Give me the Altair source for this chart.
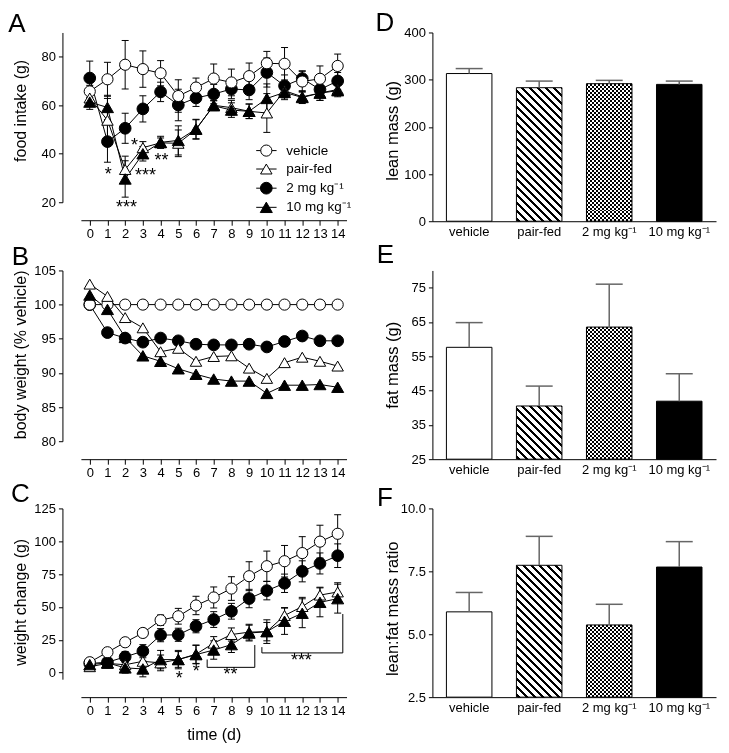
import altair as alt
import pandas as pd

# ---------------- data ----------------
DAYS = list(range(15))
GROUPS = ["vehicle", "pair-fed", "2 mg kg⁻¹", "10 mg kg⁻¹"]
DRAW_ORDER = ["2 mg kg⁻¹", "vehicle", "pair-fed", "10 mg kg⁻¹"]
SHAPES = ["circle", "triangle-up", "circle", "triangle-up"]
FILLS = ["white", "white", "black", "black"]
SIZES = [125, 145, 125, 145]

# A: food intake (g), mean and SEM
fi_vehicle = [65.7, 70.7, 76.7, 74.9, 73.2, 63.8, 67.3, 71.0, 69.4, 72.0, 77.3, 77.1, 69.8, 70.9, 76.2]
fi_vehicle_sem = [2.5, 7.0, 10.0, 7.5, 5.2, 6.7, 3.9, 6.0, 5.5, 5.4, 4.9, 6.7, 4.4, 5.3, 4.9]
fi_pairfed = [63.0, 53.8, 33.5, 42.5, 44.5, 44.3, 50.0, 60.0, 59.0, 57.5, 56.8, 66.0, 63.5, 65.0, 66.5]
fi_pairfed_sem = [2.5, 9.0, 5.5, 2.5, 2.0, 5.5, 4.0, 2.0, 3.0, 3.0, 8.0, 3.0, 2.5, 3.0, 2.5]
fi_2mg = [71.2, 45.0, 50.5, 58.5, 65.5, 60.1, 63.0, 64.6, 66.7, 66.3, 73.5, 68.0, 71.0, 66.5, 70.0]
fi_2mg_sem = [7.0, 8.5, 6.2, 5.4, 4.0, 6.5, 3.5, 4.0, 4.0, 4.0, 6.0, 4.5, 3.0, 3.0, 3.5]
fi_10mg = [61.3, 59.1, 29.6, 40.0, 44.7, 45.5, 50.2, 59.8, 58.0, 57.5, 62.8, 65.3, 63.2, 65.0, 66.0]
fi_10mg_sem = [3.0, 5.0, 7.5, 3.0, 2.5, 6.0, 4.0, 2.0, 3.0, 3.0, 6.0, 3.0, 2.5, 3.0, 2.5]
fi_star_day = [1.05, 2.08, 2.53, 3.15, 4.05]
fi_star_val = [32.2, 18.6, 43.9, 31.8, 37.9]
fi_star_txt = ["*", "***", "*", "***", "**"]
leg_y = [41.3, 33.7, 25.8, 17.9]
leg_line_x1 = [9.40] * 4
leg_line_x2 = [10.55] * 4
leg_mark_x = [9.97] * 4
leg_text_x = [11.1] * 4

# B: body weight (% vehicle)
bw_vehicle = [100.0] * 15
bw_pairfed = [103.0, 101.2, 98.1, 96.6, 93.1, 93.6, 91.7, 92.4, 92.5, 90.7, 89.2, 91.5, 92.3, 91.7, 91.0]
bw_2mg = [100.0, 95.9, 95.1, 94.5, 95.1, 94.7, 94.2, 94.1, 94.1, 94.2, 93.8, 94.6, 95.4, 94.7, 94.7]
bw_10mg = [101.4, 99.3, 95.2, 92.5, 91.7, 90.6, 89.8, 89.1, 88.8, 88.8, 87.0, 88.2, 88.2, 88.3, 87.9]

# C: weight change (g), mean and SEM
wc_vehicle = [7.9, 15.5, 23.1, 30.2, 39.9, 42.9, 51.1, 57.2, 64.0, 73.4, 81.0, 84.8, 91.0, 99.7, 105.7]
wc_vehicle_sem = [2.0, 2.0, 2.0, 3.0, 4.0, 6.0, 7.0, 8.0, 9.0, 11.0, 11.5, 12.0, 12.5, 12.5, 14.5]
wc_pairfed = [4.5, 7.0, 6.0, 8.6, 7.4, 10.0, 14.0, 22.4, 29.0, 30.8, 31.2, 43.5, 50.3, 59.0, 61.4]
wc_pairfed_sem = [2.0, 3.0, 4.0, 5.0, 6.0, 6.0, 7.0, 5.0, 5.0, 6.0, 7.0, 6.0, 7.0, 6.0, 7.0]
wc_2mg = [7.0, 7.9, 12.0, 16.3, 28.5, 28.8, 35.3, 40.4, 46.7, 56.4, 62.4, 68.0, 77.1, 83.1, 89.0]
wc_2mg_sem = [2.0, 3.0, 4.0, 5.0, 5.0, 5.0, 5.0, 6.0, 6.0, 7.0, 7.0, 7.0, 8.0, 8.0, 9.0]
wc_10mg = [6.1, 7.4, 3.6, 2.8, 9.9, 9.9, 13.7, 17.2, 21.3, 30.1, 31.2, 39.1, 45.2, 53.5, 56.3]
wc_10mg_sem = [2.0, 3.0, 4.0, 6.0, 7.0, 7.0, 7.0, 7.0, 6.0, 6.0, 9.0, 10.0, 11.0, 11.0, 11.0]
wc_star_day = [5.05, 6.02, 7.95, 11.95]
wc_star_val = [-3.3, 2.3, -0.5, 10.4]
wc_star_txt = ["*", "*", "**", "***"]
br_x1 = [6.63, 9.72]
br_x2 = [9.32, 14.29]
br_base = [4.0, 15.0]
br_left = [10.0, 19.4]
br_right = [21.0, 44.6]

# D-F: body composition, mean and SEM
lean_mean = [313.0, 283.0, 291.5, 290.0]
lean_sem = [10.5, 14.0, 7.0, 7.0]
fat_mean = [57.6, 40.5, 63.5, 41.9]
fat_sem = [7.2, 5.8, 12.5, 8.0]
ratio_mean = [5.89, 7.74, 5.37, 7.67]
ratio_sem = [0.77, 1.15, 0.82, 1.01]

# ---------------- layout constants ----------------
LW, RW = 266, 284
RH = 189
PAD_IN, PAD_OUT = 0.35, 0.2
BAND_W = RW / (4 - PAD_IN + 2 * PAD_OUT) * (1 - PAD_IN)


def shape_enc():
    return dict(
        shape=alt.Shape("group:N", scale=alt.Scale(domain=GROUPS, range=SHAPES), legend=None),
        fill=alt.Fill("group:N", scale=alt.Scale(domain=GROUPS, range=FILLS), legend=None),
        size=alt.Size("group:N", scale=alt.Scale(domain=GROUPS, range=SIZES), legend=None),
    )


def letter_layer(letter, lx, ly):
    return alt.Chart(pd.DataFrame({"t": [letter]})).mark_text(
        fontSize=26, align="center", baseline="alphabetic", color="black"
    ).encode(x=alt.value(lx), y=alt.value(ly), text="t:N")


def left_panel(means, sems, ydom, yvals, ytitle, ty, xtitle=None):
    rows = []
    for g in DRAW_ORDER:
        for i, d in enumerate(DAYS):
            m = means[g][i]
            s = sems[g][i] if sems else 0.0
            rows.append({"day": d, "group": g, "value": m, "lo": m - s, "hi": m + s})
    df = pd.DataFrame(rows)
    yax = alt.Axis(values=yvals, offset=18.5, tickSize=4, labelPadding=3, labelFontSize=13,
                   titleFontSize=16, titleX=-42.2, titleY=ty, titleBaseline="middle", titleAngle=270)
    xax = alt.Axis(values=DAYS, offset=18, tickSize=5, labelPadding=2, labelFontSize=13,
                   labelFlush=False, labelOverlap=False, titleFontSize=16, titlePadding=9)

    def X(f):
        return alt.X(f, scale=alt.Scale(domain=[-0.5, 14.5], nice=False, zero=False),
                     axis=xax, title=xtitle)

    def Y(f):
        return alt.Y(f, scale=alt.Scale(domain=ydom, nice=False, zero=False),
                     axis=yax, title=ytitle)

    base = alt.Chart(df)
    layers = [
        base.mark_line(color="black", strokeWidth=1).encode(
            x=X("day:Q"), y=Y("value:Q"), detail="group:N", order="day:Q"),
    ]
    if sems:
        layers += [
            base.mark_rule(color="black", strokeWidth=1).encode(x=X("day:Q"), y=Y("lo:Q"), y2="hi:Q"),
            base.mark_rule(color="black", strokeWidth=1, xOffset=-3.5, x2Offset=3.5).encode(
                x=X("day:Q"), x2="day:Q", y=Y("lo:Q")),
            base.mark_rule(color="black", strokeWidth=1, xOffset=-3.5, x2Offset=3.5).encode(
                x=X("day:Q"), x2="day:Q", y=Y("hi:Q")),
        ]
    layers.append(
        base.mark_point(filled=True, opacity=1, stroke="black", strokeWidth=1).encode(
            x=X("day:Q"), y=Y("value:Q"), **shape_enc())
    )
    return layers, X, Y


# ---------- Panel A ----------
A_layers, AX, AY = left_panel(
    {"vehicle": fi_vehicle, "pair-fed": fi_pairfed, "2 mg kg⁻¹": fi_2mg, "10 mg kg⁻¹": fi_10mg},
    {"vehicle": fi_vehicle_sem, "pair-fed": fi_pairfed_sem, "2 mg kg⁻¹": fi_2mg_sem, "10 mg kg⁻¹": fi_10mg_sem},
    [20, 90], [20, 40, 60, 80], "food intake (g)", 78)
starsA = pd.DataFrame({"day": fi_star_day, "value": fi_star_val, "txt": fi_star_txt})
legA = pd.DataFrame({"group": GROUPS, "y": leg_y, "x1": leg_line_x1, "x2": leg_line_x2,
                     "xm": leg_mark_x, "xt": leg_text_x})
A_layers += [
    alt.Chart(starsA).mark_text(fontSize=18, dy=2, color="black").encode(
        x=AX("day:Q"), y=AY("value:Q"), text="txt:N"),
    alt.Chart(legA).mark_rule(color="black", strokeWidth=1).encode(x=AX("x1:Q"), x2="x2:Q", y=AY("y:Q")),
    alt.Chart(legA).mark_point(filled=True, opacity=1, stroke="black", strokeWidth=1).encode(
        x=AX("xm:Q"), y=AY("y:Q"), **shape_enc()),
    alt.Chart(legA).mark_text(align="left", baseline="middle", fontSize=13.5, color="black").encode(
        x=AX("xt:Q"), y=AY("y:Q"), text="group:N"),
    letter_layer("A", -64, 0),
]
chartA = alt.layer(*A_layers).properties(width=LW, height=170)

# ---------- Panel B ----------
B_layers, BX, BY = left_panel(
    {"vehicle": bw_vehicle, "pair-fed": bw_pairfed, "2 mg kg⁻¹": bw_2mg, "10 mg kg⁻¹": bw_10mg},
    None, [80, 105], [80, 85, 90, 95, 100, 105], "body weight (% vehicle)", 84)
B_layers.append(letter_layer("B", -60.6, -5.7))
chartB = alt.layer(*B_layers).properties(width=LW, height=171)

# ---------- Panel C ----------
C_layers, CX, CY = left_panel(
    {"vehicle": wc_vehicle, "pair-fed": wc_pairfed, "2 mg kg⁻¹": wc_2mg, "10 mg kg⁻¹": wc_10mg},
    {"vehicle": wc_vehicle_sem, "pair-fed": wc_pairfed_sem, "2 mg kg⁻¹": wc_2mg_sem, "10 mg kg⁻¹": wc_10mg_sem},
    [-5, 125], [0, 25, 50, 75, 100, 125], "weight change (g)", 93.5, xtitle="time (d)")
starsC = pd.DataFrame({"day": wc_star_day, "value": wc_star_val, "txt": wc_star_txt})
brC = pd.DataFrame({"x1": br_x1, "x2": br_x2, "base": br_base, "left": br_left, "right": br_right})
C_layers += [
    alt.Chart(starsC).mark_text(fontSize=18, dy=2, color="black").encode(
        x=CX("day:Q"), y=CY("value:Q"), text="txt:N"),
    alt.Chart(brC).mark_rule(color="black", strokeWidth=1).encode(x=CX("x1:Q"), y=CY("base:Q"), y2="left:Q"),
    alt.Chart(brC).mark_rule(color="black", strokeWidth=1).encode(x=CX("x1:Q"), x2="x2:Q", y=CY("base:Q")),
    alt.Chart(brC).mark_rule(color="black", strokeWidth=1).encode(x=CX("x2:Q"), y=CY("base:Q"), y2="right:Q"),
    letter_layer("C", -60.6, -6),
]
chartC = alt.layer(*C_layers).properties(width=LW, height=171)


# ---------- bar panels ----------
def hatch(w, h, period=8.0, thick=3.2, phase=1.5):
    L = w + h
    k = L / (w * w + h * h)
    stops = [{"offset": 0.0, "color": "white"}]
    p = phase
    while p < L:
        a = p / L
        b = min((p + thick) / L, 1.0)
        stops += [{"offset": a, "color": "white"}, {"offset": a, "color": "black"},
                  {"offset": b, "color": "black"}, {"offset": b, "color": "white"}]
        p += period
    stops.append({"offset": 1.0, "color": "white"})
    return {"gradient": "linear", "x1": 0, "y1": 1, "x2": k * w, "y2": 1 - k * h, "stops": stops}


def stripes(length, vertical, size=2.0):
    stops = []
    p, dark = 0.0, True
    while p < length - 1e-9:
        a = p / length
        b = min((p + size) / length, 1.0)
        c = "black" if dark else "white"
        stops += [{"offset": a, "color": c}, {"offset": b, "color": c}]
        p += size
        dark = not dark
    return {"gradient": "linear", "x1": 0, "y1": 0, "x2": 1 if vertical else 0,
            "y2": 0 if vertical else 1, "stops": stops}


def bar_panel(means, sems, ydom, yvals, fmt, ytitle, ty, letter, lx, ly):
    df = pd.DataFrame({"group": GROUPS, "mean": means,
                       "top": [m + s for m, s in zip(means, sems)],
                       "base": [ydom[0]] * 4})
    xax = alt.Axis(labelAngle=0, ticks=False, labelPadding=4, labelFontSize=13)
    yax = alt.Axis(values=yvals, format=fmt, tickSize=4, labelPadding=3, labelFontSize=13,
                   titleFontSize=16.5, titleX=-39.5, titleY=ty, titleBaseline="middle", titleAngle=270)

    def X():
        return alt.X("group:N", sort=GROUPS,
                     scale=alt.Scale(domain=GROUPS, paddingInner=PAD_IN, paddingOuter=PAD_OUT),
                     axis=xax, title=None)

    def Y(f):
        return alt.Y(f, scale=alt.Scale(domain=ydom, nice=False, zero=False), axis=yax, title=ytitle)

    base = alt.Chart(df)

    def only(g):
        return base.transform_filter(alt.FieldEqualPredicate(field="group", equal=g))

    def hpx(v):
        return (v - ydom[0]) / (ydom[1] - ydom[0]) * RH

    h_pf = hpx(means[1])
    h_2 = hpx(means[2])
    layers = [
        only("vehicle").mark_bar(fill="white", stroke="black", strokeWidth=1).encode(
            x=X(), y=Y("mean:Q"), y2="base:Q"),
        only("pair-fed").mark_bar(fill=hatch(BAND_W, h_pf), stroke="black", strokeWidth=1).encode(
            x=X(), y=Y("mean:Q"), y2="base:Q"),
        only("2 mg kg⁻¹").mark_bar(fill=stripes(BAND_W, True), strokeWidth=0).encode(
            x=X(), y=Y("mean:Q"), y2="base:Q"),
        only("2 mg kg⁻¹").mark_bar(fill=stripes(h_2, False), strokeWidth=0, blend="difference").encode(
            x=X(), y=Y("mean:Q"), y2="base:Q"),
        only("2 mg kg⁻¹").mark_bar(fillOpacity=0, stroke="black", strokeWidth=1).encode(
            x=X(), y=Y("mean:Q"), y2="base:Q"),
        only("10 mg kg⁻¹").mark_bar(fill="black", stroke="black", strokeWidth=1).encode(
            x=X(), y=Y("mean:Q"), y2="base:Q"),
        base.mark_rule(color="#666666", strokeWidth=1.5).encode(x=X(), y=Y("mean:Q"), y2="top:Q"),
        base.mark_tick(color="#666666", thickness=1.5, size=27, opacity=1).encode(x=X(), y=Y("top:Q")),
        letter_layer(letter, lx, ly),
    ]
    return alt.layer(*layers).properties(width=RW, height=RH)


chartD = bar_panel(lean_mean, lean_sem, [0, 400], [0, 100, 200, 300, 400], "d",
                   "lean mass (g)", 98, "D", -47.5, -1.3)
chartE = bar_panel(fat_mean, fat_sem, [25, 80], [25, 35, 45, 55, 65, 75], "d",
                   "fat mass (g)", 94.5, "E", -47, -7)
chartF = bar_panel(ratio_mean, ratio_sem, [2.5, 10], [2.5, 5.0, 7.5, 10.0], ".1f",
                   "lean:fat mass ratio", 100, "F", -47.5, -2.5)

chart = alt.concat(
    chartA, chartD, chartB, chartE, chartC, chartF,
    columns=2, spacing={"row": 49.3, "column": 86}, bounds="flush",
).properties(
    padding={"left": 0, "top": 1, "right": 5, "bottom": 5}
).configure(
    font="Liberation Sans"
).configure_view(
    stroke=None
).configure_axis(
    domainColor="black", tickColor="black", labelColor="black", titleColor="black",
    grid=False, domainWidth=1, tickWidth=1, titleFontWeight="normal",
)

chart.save("out.html", embed_options={"renderer": "svg", "actions": False})
